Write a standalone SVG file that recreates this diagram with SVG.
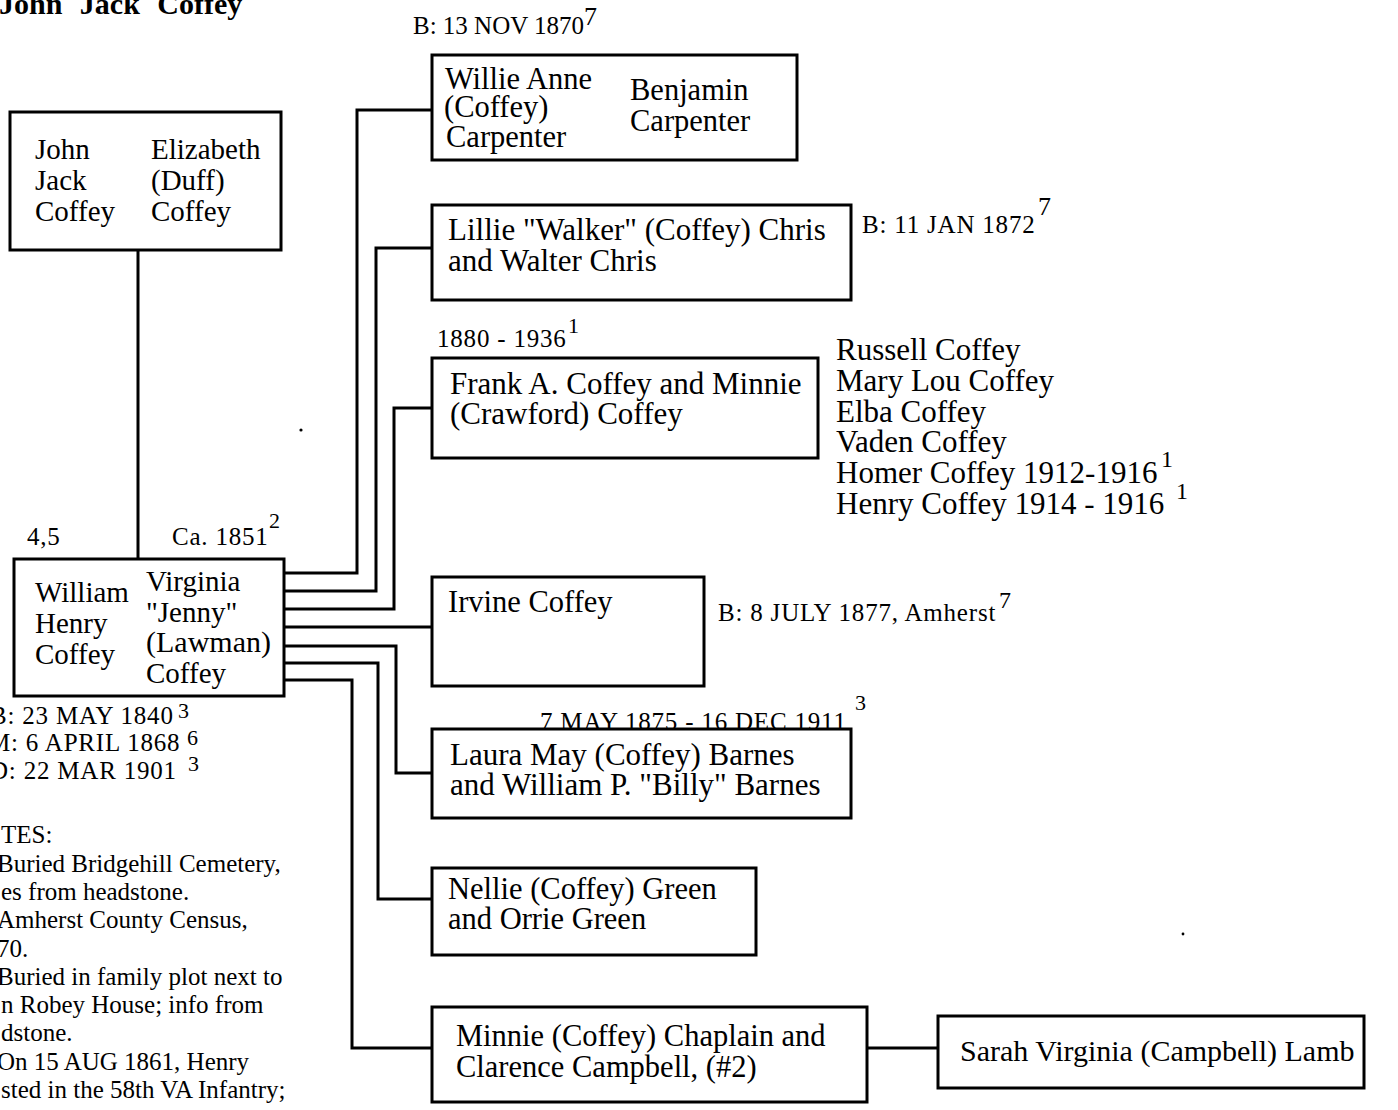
<svg xmlns="http://www.w3.org/2000/svg" width="1398" height="1110" viewBox="0 0 1398 1110">
<style>
.box{fill:#fff;stroke:#000;stroke-width:3}
.ln{fill:none;stroke:#000;stroke-width:3}
text{font-family:"Liberation Serif","Times New Roman",serif;fill:#000}
.t{font-size:30.5px}
.w{font-size:31px}
.s{font-size:29px}
.l{font-size:25px;letter-spacing:0.8px}
.sup{font-size:22px}
.n{font-size:25px}
.title{font-size:30px;font-weight:bold;word-spacing:10px}
.li{font-size:31px}
</style>
<rect width="1398" height="1110" fill="#fff"/>
<text class="title" x="-1" y="14">John Jack Coffey</text>

<g id="connectors">
<path class="ln" d="M138,250V559"/>
<path class="ln" d="M284,573H357V110H432"/>
<path class="ln" d="M284,591H376V248H432"/>
<path class="ln" d="M284,609H394V408H432"/>
<path class="ln" d="M284,627H432"/>
<path class="ln" d="M284,646H396V773H432"/>
<path class="ln" d="M284,663H378V899H432"/>
<path class="ln" d="M284,680H352V1048H432"/>
<path class="ln" d="M867,1048H938"/>
</g>

<g id="john-elizabeth">
<rect class="box" x="10" y="112" width="271" height="138"/>
<text class="s" x="35" y="159">John</text>
<text class="s" x="35" y="190">Jack</text>
<text class="s" x="35" y="221">Coffey</text>
<text class="s" x="151" y="159">Elizabeth</text>
<text class="s" x="151" y="190">(Duff)</text>
<text class="s" x="151" y="221">Coffey</text>
</g>

<g id="william-virginia">
<rect class="box" x="14" y="559" width="270" height="137"/>
<text class="s" x="35" y="602">William</text>
<text class="s" x="35" y="633">Henry</text>
<text class="s" x="35" y="664">Coffey</text>
<text class="s" x="146" y="591">Virginia</text>
<text class="s" x="146" y="622">"Jenny"</text>
<text class="s" x="146" y="652" style="font-size:30px">(Lawman)</text>
<text class="s" x="146" y="683">Coffey</text>
<text class="l" x="27" y="545">4,5</text>
<text class="l" x="172" y="545">Ca. 1851</text>
<text class="sup" x="269" y="528">2</text>
<text class="l" x="-10" y="724">B: 23 MAY 1840</text>
<text class="sup" x="178" y="718">3</text>
<text class="l" x="-12" y="751">M: 6 APRIL 1868</text>
<text class="sup" x="187" y="745">6</text>
<text class="l" x="-10" y="779">D: 22 MAR 1901</text>
<text class="sup" x="188" y="771">3</text>
</g>

<g id="notes">
<text class="n" x="1" y="843">TES:</text>
<text class="n" x="-3" y="872">Buried Bridgehill Cemetery,</text>
<text class="n" x="1" y="900">es from headstone.</text>
<text class="n" x="-3" y="928">Amherst County Census,</text>
<text class="n" x="-3" y="957">70.</text>
<text class="n" x="-3" y="985">Buried in family plot next to</text>
<text class="n" x="1" y="1013">n Robey House; info from</text>
<text class="n" x="1" y="1041">dstone.</text>
<text class="n" x="-3" y="1070">On 15 AUG 1861, Henry</text>
<text class="n" x="1" y="1098">sted in the 58th VA Infantry;</text>
</g>

<g id="willie">
<rect class="box" x="432" y="55" width="365" height="105"/>
<text class="t" x="445" y="89">Willie Anne</text>
<text class="t" x="444" y="117">(Coffey)</text>
<text class="t" x="446" y="147">Carpenter</text>
<text class="t" x="630" y="100">Benjamin</text>
<text class="t" x="630" y="131">Carpenter</text>
<text class="l" x="413" y="34" style="letter-spacing:0">B: 13 NOV 1870</text>
<text class="sup" x="584" y="25" style="font-size:26px">7</text>
</g>

<g id="lillie">
<rect class="box" x="432" y="205" width="419" height="95"/>
<text class="w" x="448" y="240">Lillie "Walker" (Coffey) Chris</text>
<text class="w" x="448" y="271">and Walter Chris</text>
<text class="l" x="862" y="233">B: 11 JAN 1872</text>
<text class="sup" x="1038" y="215" style="font-size:26px">7</text>
</g>

<g id="frank">
<rect class="box" x="432" y="358" width="386" height="100"/>
<text class="w" x="450" y="394">Frank A. Coffey and Minnie</text>
<text class="w" x="450" y="424">(Crawford) Coffey</text>
<text class="l" x="437" y="347">1880 - 1936</text>
<text class="sup" x="568" y="333">1</text>
</g>

<g id="frank-children">
<text class="li" x="836" y="360">Russell Coffey</text>
<text class="li" x="836" y="391">Mary Lou Coffey</text>
<text class="li" x="836" y="422">Elba Coffey</text>
<text class="li" x="836" y="452">Vaden Coffey</text>
<text class="li" x="836" y="483">Homer Coffey 1912-1916</text>
<text class="sup" x="1161" y="467" style="font-size:24px">1</text>
<text class="li" x="836" y="514">Henry Coffey 1914 - 1916</text>
<text class="sup" x="1176" y="499" style="font-size:24px">1</text>
</g>

<g id="irvine">
<rect class="box" x="432" y="577" width="272" height="109"/>
<text class="t" x="448" y="612">Irvine Coffey</text>
<text class="l" x="718" y="621">B: 8 JULY 1877, Amherst</text>
<text class="sup" x="999" y="608" style="font-size:24px">7</text>
</g>

<g id="laura">
<text class="l" x="540" y="730">7 MAY 1875 - 16 DEC 1911</text>
<text class="sup" x="855" y="710">3</text>
<rect class="box" x="432" y="729" width="419" height="89" style="fill:none"/>
<text class="w" x="450" y="765">Laura May (Coffey) Barnes</text>
<text class="w" x="450" y="795">and William P. "Billy" Barnes</text>
</g>

<g id="nellie">
<rect class="box" x="432" y="868" width="324" height="87"/>
<text class="t" x="448" y="899">Nellie (Coffey) Green</text>
<text class="t" x="448" y="929">and Orrie Green</text>
</g>

<g id="minnie">
<rect class="box" x="432" y="1007" width="435" height="95"/>
<text class="t" x="456" y="1046">Minnie (Coffey) Chaplain and</text>
<text class="t" x="456" y="1077">Clarence Campbell, (#2)</text>
</g>

<g id="sarah">
<rect class="box" x="938" y="1016" width="426" height="72"/>
<text class="t" x="960" y="1061" style="font-size:30px">Sarah Virginia (Campbell) Lamb</text>
</g>

<circle cx="301" cy="430" r="1.6" fill="#000"/>
<circle cx="1183" cy="934" r="1.4" fill="#000"/>
</svg>
